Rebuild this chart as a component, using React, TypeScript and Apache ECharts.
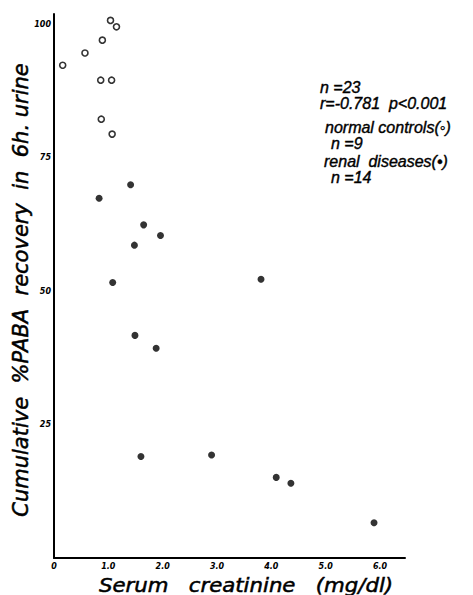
import React, { useEffect, useRef } from "react";
import * as echarts from "echarts";

// Normal controls (open circles)
const normalCreatinine = [1.04, 1.15, 0.89, 0.57, 0.16, 0.86, 1.06, 0.87, 1.07];
const normalPABA = [100.7, 99.5, 97.0, 94.6, 92.3, 89.5, 89.5, 82.2, 79.4];

// Renal diseases (filled circles)
const renalCreatinine = [1.41, 0.83, 1.65, 1.96, 1.48, 1.08, 3.81, 1.49, 1.88, 1.6, 2.9, 4.09, 4.36, 5.89];
const renalPABA = [69.9, 67.4, 62.4, 60.4, 58.6, 51.6, 52.2, 41.7, 39.3, 19.0, 19.3, 15.1, 14.0, 6.6];

const xTicks = [0, 1, 2, 3, 4, 5, 6];
const yTicks = [25, 50, 75, 100];

const yTitle = "Cumulative  %PABA  recovery  in  6h. urine";
const xTitle = "Serum   creatinine   (mg/dl)";
const notes = [
  "n =23",
  "r=-0.781  p<0.001",
  "normal controls(\u25e6)",
  "n =9",
  "renal  diseases(\u2022)",
  "n =14",
];

export default function App() {
  const ref = useRef<HTMLDivElement>(null);
  useEffect(() => {
    if (!ref.current) return;
    const chart = echarts.init(ref.current, null, { renderer: "svg" });
    const normalData = normalCreatinine.map((x, i) => [x, normalPABA[i]]);
    const renalData = renalCreatinine.map((x, i) => [x, renalPABA[i]]);
    const tickFont = {
      fontFamily: "DejaVu Sans",
      fontStyle: "italic" as const,
      fontWeight: "bold" as const,
      fontSize: 8,
      color: "#000",
    };
    const noteFont = "Liberation Sans";
    const notePos: [number, number, number][] = [
      [320, 87, 16],
      [320, 103, 16],
      [325, 127, 16],
      [331, 143, 16],
      [324, 161, 16],
      [331, 177, 16],
    ];
    chart.setOption({
      animation: false,
      backgroundColor: "#fff",
      grid: { left: 54, right: 68, top: 14, bottom: 37, containLabel: false },
      xAxis: {
        type: "value",
        min: 0,
        max: 6.46,
        interval: 1,
        splitLine: { show: false },
        axisTick: { show: false },
        axisLine: { show: true, onZero: false, lineStyle: { color: "#000", width: 2 } },
        axisLabel: {
          ...tickFont,
          margin: 4,
          formatter: (v: number) => {
            if (!xTicks.includes(v)) return "";
            return v === 0 ? "0" : v.toFixed(1);
          },
        },
      },
      yAxis: {
        type: "value",
        min: 0,
        max: 101.9,
        interval: 25,
        splitLine: { show: false },
        axisTick: { show: false },
        axisLine: { show: true, onZero: false, lineStyle: { color: "#000", width: 2 } },
        axisLabel: {
          ...tickFont,
          margin: 3,
          formatter: (v: number) => (yTicks.includes(v) ? String(v) : ""),
        },
      },
      series: [
        {
          name: "normal controls",
          type: "scatter",
          data: normalData,
          symbol: "circle",
          symbolSize: 6,
          itemStyle: { color: "#fff", borderColor: "#000", borderWidth: 1.6 },
        },
        {
          name: "renal diseases",
          type: "scatter",
          data: renalData,
          symbol: "circle",
          symbolSize: 7,
          itemStyle: { color: "#000" },
        },
      ],
      graphic: [
        {
          type: "text",
          x: 21,
          y: 290,
          rotation: Math.PI / 2,
          style: {
            text: yTitle,
            fontFamily: "DejaVu Sans",
            fontStyle: "italic",
            fontSize: 21,
            fill: "#000",
            stroke: "#000",
            lineWidth: 0.5,
            align: "center",
            verticalAlign: "middle",
          },
        },
        {
          type: "text",
          x: 246,
          y: 585,
          scaleX: 1.12,
          style: {
            text: xTitle,
            fontFamily: "DejaVu Sans",
            fontStyle: "italic",
            fontSize: 19,
            fill: "#000",
            stroke: "#000",
            lineWidth: 0.5,
            align: "center",
            verticalAlign: "middle",
          },
        },
        ...notes.map((t, i) => ({
          type: "text",
          x: notePos[i][0],
          y: notePos[i][1],
          style: {
            text: t,
            fontFamily: noteFont,
            fontStyle: "italic",
            fontSize: notePos[i][2],
            fill: "#000",
            stroke: "#000",
            lineWidth: 0.4,
            align: "left",
            verticalAlign: "middle",
          },
        })),
      ],
    });
    return () => chart.dispose();
  }, []);
  return (
    <div
      ref={ref}
      style={{ position: "absolute", left: 0, top: 0, width: 473, height: 595 }}
    />
  );
}
